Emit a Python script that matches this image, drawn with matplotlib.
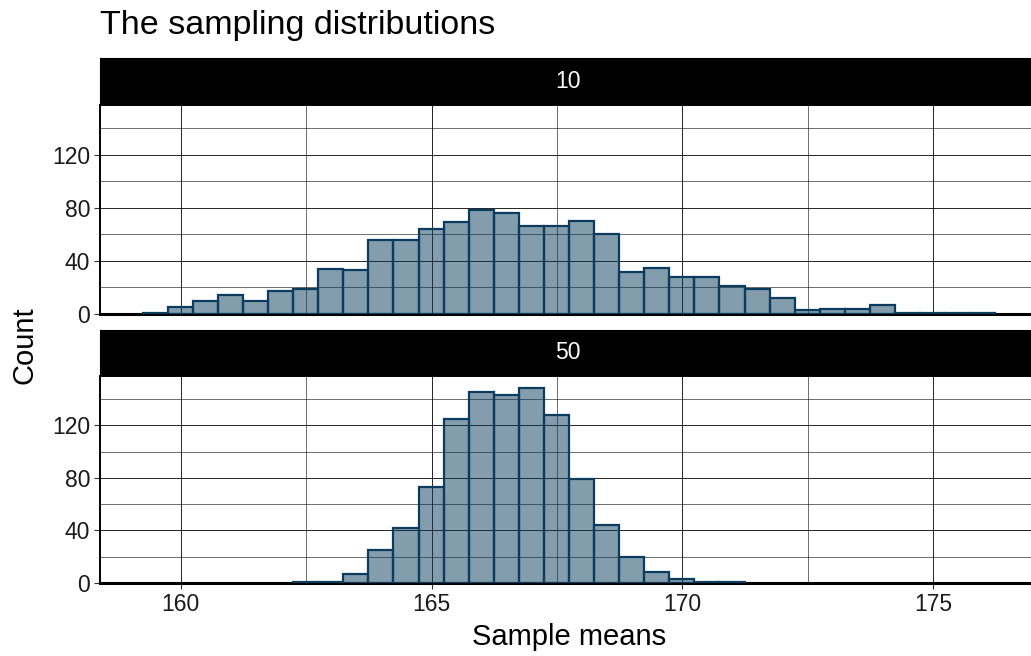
import matplotlib
matplotlib.use('Agg')
import matplotlib.pyplot as plt
import numpy as np

plt.rcParams['font.family'] = ['Liberation Sans', 'DejaVu Sans']

# histogram data (bin width 0.5)
bin_start = 159.24
bin_width = 0.5
counts_10 = [1, 5, 10, 14, 10, 17, 19, 34, 33, 56, 56, 64, 69, 78, 76, 66, 66,
             70, 60, 32, 35, 28, 28, 21, 19, 12, 3, 4, 4, 7, 1, 1, 1, 1]
counts_50 = [0] * 6 + [1, 1, 7, 25, 42, 73, 125, 145, 143, 148, 128, 79, 44, 20,
                       8, 3, 1, 1] + [0] * 10
panel_labels = ['10', '50']
x_ticks = [160, 165, 170, 175]
y_ticks = [0, 40, 80, 120]

W, H = 1031, 656
fig = plt.figure(figsize=(W / 100, H / 100), dpi=100)


def px_axes(left, top, right, bottom):
    return fig.add_axes([left / W, 1 - bottom / H, (right - left) / W, (bottom - top) / H])


fill = (11 / 255, 60 / 255, 93 / 255, 0.5)
edge = '#0b3c5d'
xlim = (158.39, 177.09)
ylim = (0, 157.5)

panels = [(58, 105, 314, counts_10), (330, 376, 583, counts_50)]
for i, (strip_top, ptop, pbottom, counts) in enumerate(panels):
    # strip
    sax = px_axes(100, strip_top, 1038, ptop)
    sax.set_facecolor('black')
    sax.set_xticks([])
    sax.set_yticks([])
    for s in sax.spines.values():
        s.set_color('black')
    sax.text(0.5 * (1031 - 100) / 938 + 0.003, 0.5, panel_labels[i], color='white', fontsize=16.5,
             ha='center', va='center', transform=sax.transAxes)

    ax = px_axes(100, ptop, 1038, pbottom)
    edges = bin_start + bin_width * np.arange(len(counts))
    c = np.array(counts)
    mask = c > 0
    ax.bar(edges[mask], c[mask], width=bin_width, align='edge', color=fill,
           edgecolor=edge, linewidth=1.6, zorder=3)
    ax.set_xlim(*xlim)
    ax.set_ylim(*ylim)
    ax.set_xticks(x_ticks)
    ax.set_xticks([162.5, 167.5, 172.5], minor=True)
    ax.set_yticks(y_ticks)
    ax.set_yticks([20, 60, 100, 140], minor=True)
    ax.grid(True, which='major', color='black', linewidth=0.6, zorder=1)
    ax.grid(True, which='minor', color='black', linewidth=0.4, zorder=1)
    ax.set_axisbelow(True)
    ax.tick_params(axis='both', which='minor', length=0)
    ax.tick_params(axis='both', which='major', labelsize=16.5, length=4, width=0.8,
                   color='#333333', labelcolor='#1a1a1a', pad=3)
    for s in ax.spines.values():
        s.set_color('black')
        s.set_linewidth(1.4)
    ax.spines['bottom'].set_linewidth(2.2)
    if i == 0:
        ax.tick_params(axis='x', which='major', labelbottom=False, length=0)

fig.text(100 / W, 1 - 34 / H, 'The sampling distributions', fontsize=24.5,
         ha='left', va='baseline', color='black')
fig.text(25 / W, 1 - 345 / H, 'Count', fontsize=21, rotation=90,
         ha='center', va='center', color='black')
fig.text(569 / W, 1 - 645 / H, 'Sample means', fontsize=21,
         ha='center', va='baseline', color='black')

fig.savefig('out.png', dpi=100)
